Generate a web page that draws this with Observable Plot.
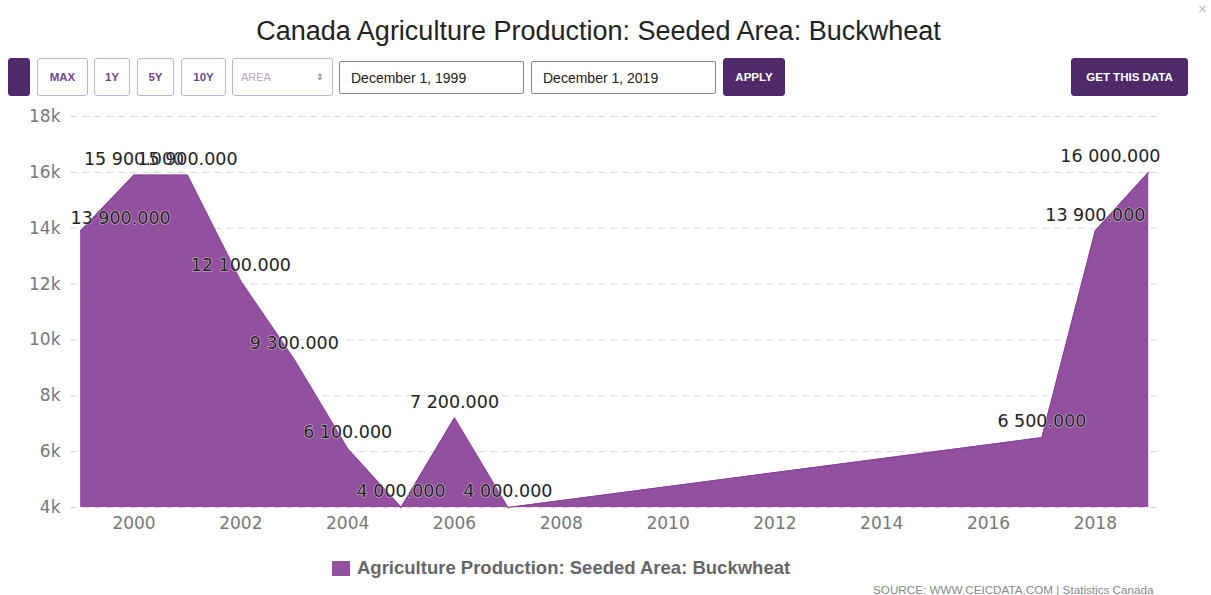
<!DOCTYPE html>
<html><head><meta charset="utf-8">
<script src="https://cdn.jsdelivr.net/npm/d3@7"></script>
<script src="https://cdn.jsdelivr.net/npm/@observablehq/plot@0.6"></script>
<style>
body{margin:0;background:#fff;width:1211px;height:595px;overflow:hidden;position:relative;font-family:"Liberation Sans",Arial,sans-serif;}
.abs{position:absolute;box-sizing:border-box;}
#title{left:0;width:1197px;top:16px;text-align:center;font-size:27px;color:#222;white-space:nowrap;}
.btn{top:58px;height:38px;border:1.5px solid #c4b0d2;border-radius:3px;background:#fff;color:#6a4a88;font-size:11.5px;font-weight:bold;display:flex;align-items:center;justify-content:center;}
.dark{background:#4e2a69;border-color:#4e2a69;color:#fff;}
.inp{top:61px;height:33px;border:1.5px solid #888;border-radius:2px;font-size:14px;color:#222;padding-left:11px;display:flex;align-items:center;}
#chart{left:0;top:100px;}
#legend{left:332px;top:557px;font-size:18.5px;font-weight:bold;color:#666;display:flex;align-items:center;white-space:nowrap;}
#legend span.sw{display:inline-block;width:18px;height:15px;background:#93509e;margin-right:7px;}
#source{left:873px;top:583px;font-size:11.7px;color:#888;white-space:nowrap;}
#close{left:1198px;top:0px;font-size:15px;color:#bbb;}
</style></head>
<body>
<div id="title" class="abs">Canada Agriculture Production: Seeded Area: Buckwheat</div>
<div id="close" class="abs">×</div>
<div class="abs btn dark" style="left:8px;width:22px;"></div>
<div class="abs btn" style="left:37px;width:51px;">MAX</div>
<div class="abs btn" style="left:94px;width:36px;">1Y</div>
<div class="abs btn" style="left:137px;width:37px;">5Y</div>
<div class="abs btn" style="left:181px;width:45px;">10Y</div>
<div class="abs btn" style="left:232px;width:101px;justify-content:space-between;padding:0 8px;color:#b9a3c8;font-weight:normal;font-size:11px;"><span>AREA</span><span style="font-size:9px;color:#7a5a94;">&#8661;</span></div>
<div class="abs inp" style="left:339px;width:185px;">December 1, 1999</div>
<div class="abs inp" style="left:531px;width:185px;">December 1, 2019</div>
<div class="abs btn dark" style="left:723px;width:62px;">APPLY</div>
<div class="abs btn dark" style="left:1071px;width:117px;">GET THIS DATA</div>
<div id="chart" class="abs"></div>
<div id="legend" class="abs"><span class="sw"></span>Agriculture Production: Seeded Area: Buckwheat</div>
<div id="source" class="abs">SOURCE: WWW.CEICDATA.COM | Statistics Canada</div>
<script>
const years = [1999, 2000, 2001, 2002, 2003, 2004, 2005, 2006, 2007, 2017, 2018, 2019];
const values = [13900, 15900, 15900, 12100, 9300, 6100, 4000, 7200, 4000, 6500, 13900, 16000];
const labels = ["13 900.000","15 900.000","15 900.000","12 100.000","9 300.000","6 100.000","4 000.000","7 200.000","4 000.000","6 500.000","13 900.000","16 000.000"];
const xTicks = [2000, 2002, 2004, 2006, 2008, 2010, 2012, 2014, 2016, 2018];
const yTicks = [4000, 6000, 8000, 10000, 12000, 14000, 16000, 18000];

const data = years.map((y, i) => ({year: y, value: values[i], label: labels[i]}));
const xDomain = [1998.81, 2019.22];
const yDomain = [4000, 18000];
const last = data.length - 1;
const labelData = data.map((d, i) => ({
  ...d,
  lx: i === 0 ? xDomain[0] : i === last ? xDomain[1] : d.year,
  anchor: i === 0 ? "start" : i === last ? "end" : "middle"
}));
const color = "#93509e";
const font = "DejaVu Sans";
const labelStyle = {text: "label", lineAnchor: "middle", fontSize: 17.5, fill: "#222", stroke: "#fff", strokeWidth: 1.2, strokeOpacity: 0.6};

const chart = Plot.plot({
  width: 1211,
  height: 445,
  marginLeft: 70,
  marginRight: 51,
  marginTop: 16,
  marginBottom: 38,
  style: {fontFamily: font, background: "transparent", overflow: "visible"},
  x: {domain: xDomain, label: null},
  y: {domain: yDomain, label: null},
  marks: [
    Plot.gridY(yTicks, {stroke: "#d8d8d8", strokeOpacity: 1, strokeDasharray: "7,5"}),
    Plot.areaY(data, {x: "year", y1: () => yDomain[0], y2: "value", fill: color, fillOpacity: 1}),
    Plot.lineY(data, {x: "year", y: "value", stroke: "#88449a", strokeWidth: 1.2}),
    Plot.axisX({ticks: xTicks, tickFormat: d => String(d), tickSize: 0, tickPadding: 9, fontSize: 17, fill: "#777"}),
    Plot.axisY({ticks: yTicks, tickFormat: d => d / 1000 + "k", tickSize: 0, tickPadding: 10, fontSize: 17, fill: "#777"}),
    Plot.text(labelData.filter(d => d.anchor === "middle"), {x: "lx", y: "value", textAnchor: "middle", dy: -16, ...labelStyle}),
    Plot.text(labelData.filter(d => d.anchor === "start"), {x: "lx", y: "value", textAnchor: "start", dy: -13, ...labelStyle}),
    Plot.text(labelData.filter(d => d.anchor === "end"), {x: "lx", y: "value", textAnchor: "end", dy: -16, ...labelStyle})
  ]
});
document.getElementById("chart").appendChild(chart);
</script>
</body></html>
